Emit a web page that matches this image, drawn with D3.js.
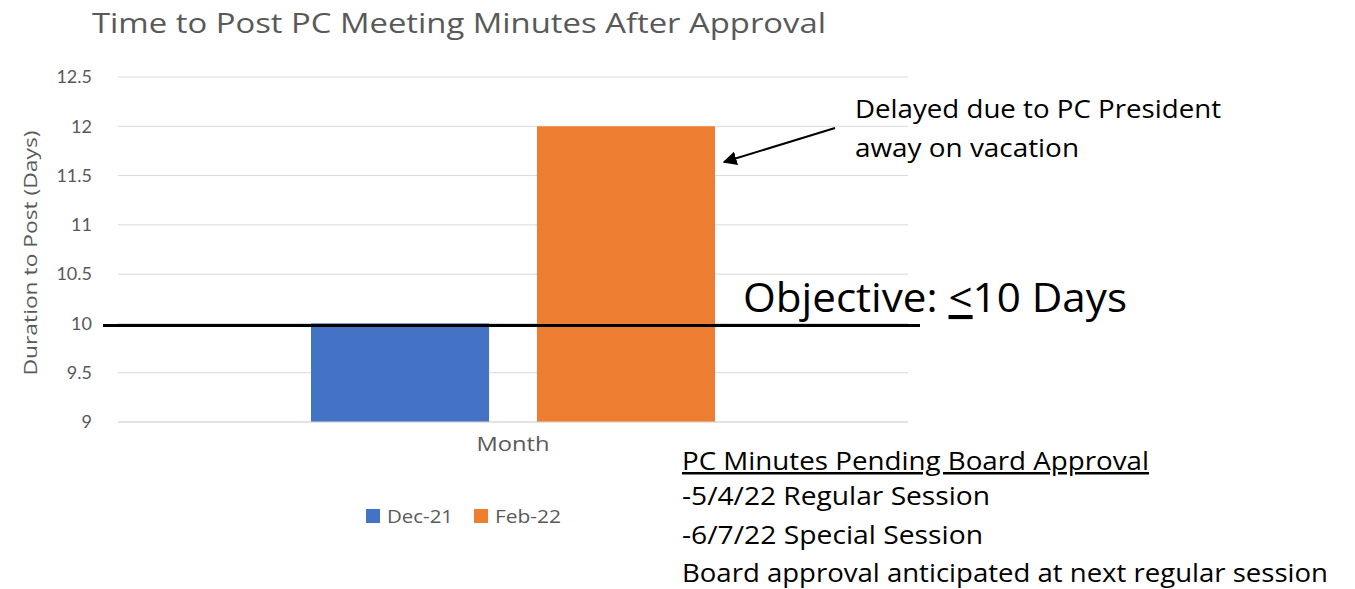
<!DOCTYPE html>
<html>
<head>
<meta charset="utf-8">
<script src="https://cdn.jsdelivr.net/npm/d3@7"></script>
<style>
  body { margin: 0; background: #fff; }
  text { font-family: "Open Sans", Lato, sans-serif; }
</style>
</head>
<body>
<div id="chart"></div>
<script>
var categories = ["Month"];
var seriesNames = ["Dec-21", "Feb-22"];
var seriesValues = [10, 12];
var yTicks = [9, 9.5, 10, 10.5, 11, 11.5, 12, 12.5];
var objective = 10;
var noteLines = ["-5/4/22 Regular Session", "-6/7/22 Special Session", "Board approval anticipated at next regular session"];

var width = 1355, height = 589;
var colors = ["#4472c4", "#ed7d31"];

var svg = d3.select("#chart").append("svg")
    .attr("width", width)
    .attr("height", height);

var x0 = d3.scaleBand().domain(categories).range([118, 908]);
var x1 = d3.scaleBand().domain(seriesNames)
    .range([x0("Month") + 193, x0("Month") + 597]).paddingInner(0.212);
var y = d3.scaleLinear().domain([9, 12.5]).range([422, 77]);

// gridlines
svg.append("g").selectAll("line")
    .data(yTicks)
    .enter().append("line")
    .attr("x1", 118).attr("x2", 908)
    .attr("y1", function (d) { return y(d); })
    .attr("y2", function (d) { return y(d); })
    .attr("stroke", "#d9d9d9")
    .attr("stroke-width", 1);

// y axis labels
var yAxis = d3.axisLeft(y).tickValues(yTicks).tickSize(0).tickPadding(0)
    .tickFormat(function (d) { return d; });
var ya = svg.append("g").attr("transform", "translate(92,0)").call(yAxis);
ya.select(".domain").remove();
ya.selectAll("text")
    .attr("fill", "#595959")
    .style("font-size", "18px")
    .style("font-family", "Lato, sans-serif");

// bars
svg.append("g").selectAll("rect")
    .data(seriesValues)
    .enter().append("rect")
    .attr("x", function (d, i) { return x1(seriesNames[i]); })
    .attr("width", x1.bandwidth())
    .attr("y", function (d) { return y(d); })
    .attr("height", function (d) { return y(9) - y(d); })
    .attr("fill", function (d, i) { return colors[i]; });

// x axis baseline
svg.append("line")
    .attr("x1", 118).attr("x2", 908)
    .attr("y1", y(9)).attr("y2", y(9))
    .attr("stroke", "#d9d9d9");

// objective line
svg.append("line")
    .attr("x1", 103).attr("x2", 920)
    .attr("y1", y(objective) + 2).attr("y2", y(objective) + 2)
    .attr("stroke", "#000")
    .attr("stroke-width", 3);

// title
svg.append("text")
    .attr("x", 92).attr("y", 33)
    .attr("fill", "#595959")
    .style("font-size", "27px")
    .attr("textLength", 734)
    .attr("lengthAdjust", "spacingAndGlyphs")
    .text("Time to Post PC Meeting Minutes After Approval");

// y axis title
svg.append("text")
    .attr("transform", "translate(37,253) rotate(-90)")
    .attr("text-anchor", "middle")
    .attr("fill", "#595959")
    .style("font-size", "19px")
    .attr("textLength", 245)
    .attr("lengthAdjust", "spacingAndGlyphs")
    .text("Duration to Post (Days)");

// category label
svg.append("text")
    .attr("x", x0("Month") + x0.bandwidth() / 2).attr("y", 451)
    .attr("text-anchor", "middle")
    .attr("fill", "#595959")
    .style("font-size", "20px")
    .attr("textLength", 73)
    .attr("lengthAdjust", "spacingAndGlyphs")
    .text(categories[0]);

// legend
var legend = svg.append("g").selectAll("g")
    .data(seriesNames)
    .enter().append("g")
    .attr("transform", function (d, i) { return "translate(" + (366 + i * 108) + ",509)"; });
legend.append("rect")
    .attr("width", 14).attr("height", 14)
    .attr("fill", function (d, i) { return colors[i]; });
legend.append("text")
    .attr("x", 21).attr("y", 14)
    .attr("fill", "#595959")
    .style("font-size", "18px")
    .attr("textLength", 66)
    .attr("lengthAdjust", "spacingAndGlyphs")
    .text(function (d) { return d; });

// objective text
var obj = svg.append("text")
    .attr("x", 743).attr("y", 312)
    .attr("fill", "#000")
    .style("font-size", "41px")
    .attr("textLength", 384)
    .attr("lengthAdjust", "spacingAndGlyphs");
obj.append("tspan").text("Objective: ");
obj.append("tspan").attr("text-decoration", "underline").text("<");
obj.append("tspan").text("10 Days");

// annotation
svg.append("text")
    .attr("x", 855).attr("y", 118)
    .style("font-size", "25px")
    .attr("textLength", 366)
    .attr("lengthAdjust", "spacingAndGlyphs")
    .text("Delayed due to PC President");
svg.append("text")
    .attr("x", 855).attr("y", 157)
    .style("font-size", "25px")
    .attr("textLength", 224)
    .attr("lengthAdjust", "spacingAndGlyphs")
    .text("away on vacation");

svg.append("defs").append("marker")
    .attr("id", "arrow")
    .attr("viewBox", "0 0 10 10")
    .attr("refX", 9).attr("refY", 5)
    .attr("markerWidth", 7).attr("markerHeight", 7)
    .attr("orient", "auto")
    .append("path")
    .attr("d", "M0,0L10,5L0,10z")
    .attr("fill", "#000");
svg.append("line")
    .attr("x1", 835).attr("y1", 128)
    .attr("x2", 724).attr("y2", 162)
    .attr("stroke", "#000")
    .attr("stroke-width", 2)
    .attr("marker-end", "url(#arrow)");

// pending note
svg.append("text")
    .attr("x", 682).attr("y", 470)
    .style("font-size", "25px")
    .attr("text-decoration", "underline")
    .attr("textLength", 467)
    .attr("lengthAdjust", "spacingAndGlyphs")
    .text("PC Minutes Pending Board Approval");
var noteLens = [308, 301, 646];
svg.append("g").selectAll("text")
    .data(noteLines)
    .enter().append("text")
    .attr("x", 682)
    .attr("y", function (d, i) { return 505 + i * 38.5; })
    .style("font-size", "25px")
    .attr("textLength", function (d, i) { return noteLens[i]; })
    .attr("lengthAdjust", "spacingAndGlyphs")
    .text(function (d) { return d; });
</script>
</body>
</html>
